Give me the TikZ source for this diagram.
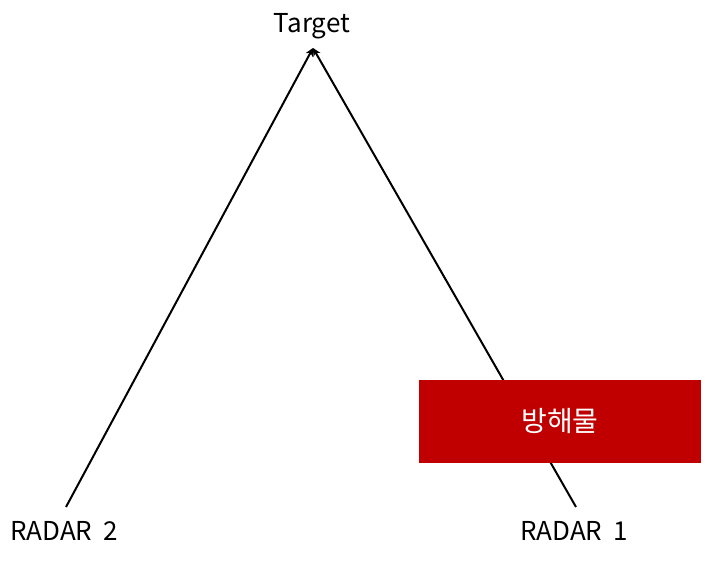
\documentclass[tikz,border=0pt]{standalone}
\usepackage{fontspec}
\setmainfont{Noto Sans CJK KR}
\usetikzlibrary{arrows.meta}
\begin{document}
\begin{tikzpicture}[x=1pt,y=-1pt,
  lbl/.style={font=\fontsize{26}{30}\selectfont, inner sep=0pt},
  ray/.style={line width=2pt, -{Stealth[length=8pt,width=8pt]}},
  blocker/.style={fill={rgb,255:red,192;green,0;blue,0}, draw=none, minimum width=282pt, minimum height=83pt, inner sep=0pt, text=white, font=\fontsize{28}{32}\selectfont}]
\useasboundingbox (0,0) rectangle (721,561);
\coordinate (t) at (313,48);
\coordinate (r2) at (66,507);
\coordinate (r1) at (576,507);
\node[lbl] (tl) at (312,26) {Target};
\node[lbl] (r2l) at (64,531) {RADAR\hspace{5pt} 2};
\node[lbl] (r1l) at (574,531) {RADAR\hspace{5pt} 1};
\draw[ray] (r2) -- (t);
\draw[ray] (r1) -- (t);
\node[blocker] (obs) at (560,421.5) {방해물};
\end{tikzpicture}
\end{document}
